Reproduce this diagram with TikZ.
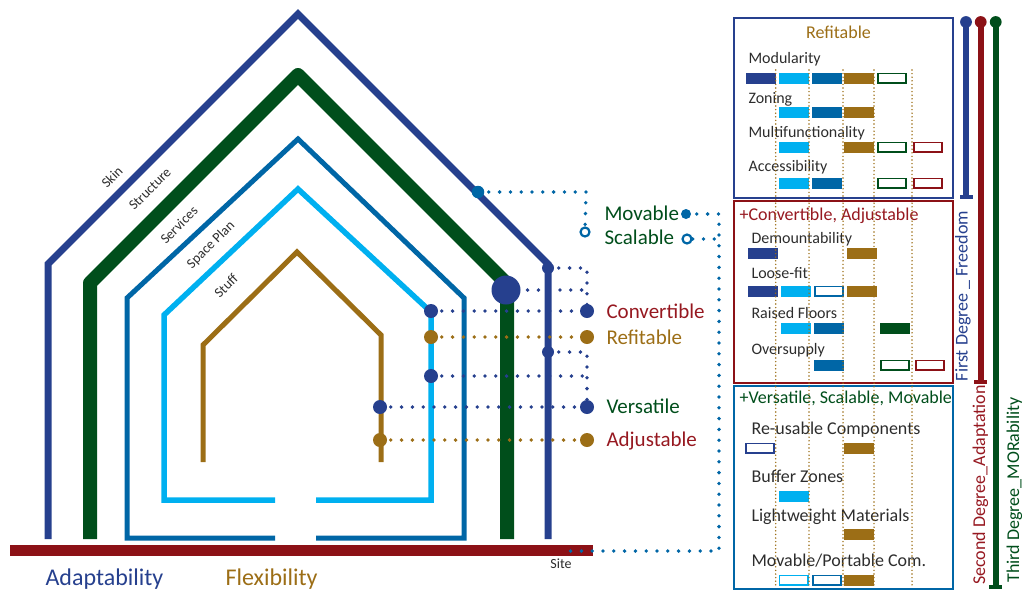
\documentclass[tikz,border=0pt]{standalone}
\usepackage{fontspec}
\setmainfont{Carlito}
\definecolor{dkblue}{RGB}{38,64,142}
\definecolor{svcblue}{RGB}{0,102,166}
\definecolor{ltblue}{RGB}{0,176,240}
\definecolor{dkgreen}{RGB}{0,78,27}
\definecolor{brownish}{RGB}{156,110,22}
\definecolor{dkred}{RGB}{140,17,22}
\definecolor{txtred}{RGB}{150,24,32}
\definecolor{txtgray}{RGB}{45,45,45}
\newcommand{\fs}[1]{\fontsize{#1}{#1}\selectfont}
% filled and outlined cells of the property table
\newcommand{\fcell}[3]{\fill[#1] (#2,#3-5.5) rectangle ++(30,11);}
\newcommand{\ocell}[3]{\draw[#1,line width=1.8pt,fill=white] (#2+0.9,#3-4.6) rectangle ++(28.2,9.2);}
\pgfdeclarelayer{back}
\pgfdeclarelayer{mid}
\pgfsetlayers{back,mid,main}
\begin{document}
\begin{tikzpicture}[x=1pt,y=-1pt,
  dotmark/.style={circle,inner sep=0pt,draw=none,minimum size=#1},
  ring/.style={circle,inner sep=0pt,fill=white,draw=svcblue,line width=2.2pt,minimum size=#1},
  dotline/.style={line width=3.8pt,dash pattern=on 0pt off 10.8pt,line cap=round},
  gridline/.style={draw=brownish,line width=1.6pt,dash pattern=on 0pt off 3.6pt,line cap=round},
  layerlabel/.style={rotate=45,text=txtgray,font=\fs{14}},
  biglabel/.style={anchor=mid west,font=\fs{21}},
  rowlabel/.style={anchor=mid west,text=txtgray,font=\fs{16}},
  rowlabelL/.style={anchor=mid west,text=txtgray,font=\fs{18}},
  header/.style={font=\fs{18}},
  vlabel/.style={rotate=90,font=\fs{18}}]
\useasboundingbox (0,0) rectangle (1022,590);

% ---------- house layers ----------
\begin{pgfonlayer}{back}
\draw[dkblue,line width=7pt,miter limit=10] (48,539) -- (48,264) -- (298,14) -- (548,264) -- (548,539);
\draw[dkgreen,line width=14pt,line join=round] (90,539) -- (90,283) -- (298,75) -- (507,284) -- (507,539);
\draw[svcblue,line width=5pt] (275,538) -- (127,538) -- (127,298) -- (298,139) -- (464,298) -- (464,538) -- (316,538);
\draw[ltblue,line width=5.5pt] (275,500) -- (164,500) -- (164,315) -- (298,189) -- (431,312) -- (431,500) -- (316,500);
\draw[brownish,line width=5pt] (203,462) -- (203,345) -- (297,252) -- (381,335) -- (381,462);
% site
\fill[dkred] (10,545) rectangle (593,556);
\end{pgfonlayer}
\node[text=txtgray,font=\fs{14}] (site) at (561,564) {Site};

% layer names
\node[layerlabel] (lskin) at (112,177) {Skin};
\node[layerlabel] (lstruct) at (150,189) {Structure};
\node[layerlabel] (lserv) at (179,225) {Services};
\node[layerlabel] (lspace) at (211,245) {Space Plan};
\node[layerlabel] (lstuff) at (226,286) {Stuff};

\node[anchor=mid west,text=dkblue,font=\fs{24}] (adapt) at (42,583) {Adaptability};
\node[anchor=mid west,text=brownish,font=\fs{24}] (flex) at (222,583) {Flexibility};

% ---------- dots on the layers ----------
\node[dotmark=12.5pt,fill=svcblue] (skA) at (478,192) {};
\node[dotmark=12pt,fill=dkblue] (skB) at (548,268) {};
\node[dotmark=29pt,fill=dkblue] (big) at (506,290) {};
\node[dotmark=14pt,fill=dkblue] (spA) at (431,311) {};
\node[dotmark=14pt,fill=brownish] (spR) at (431,337) {};
\node[dotmark=12pt,fill=dkblue] (skC) at (548,352) {};
\node[dotmark=14pt,fill=dkblue] (spB) at (431,376) {};
\node[dotmark=14pt,fill=dkblue] (stA) at (380,407) {};
\node[dotmark=14pt,fill=brownish] (stB) at (380,440) {};

% ---------- dots beside the property names ----------
\node[dotmark=14pt,fill=dkblue] (conv) at (587,311) {};
\node[dotmark=14pt,fill=brownish] (refit) at (587,337) {};
\node[dotmark=14pt,fill=dkblue] (vers) at (587,407) {};
\node[dotmark=14pt,fill=brownish] (adj) at (587,440) {};
\node[ring=9pt] (scL) at (585,232) {};
\node[dotmark=10pt,fill=svcblue] (mov) at (686,214) {};
\node[ring=9pt] (scR) at (687,239) {};

\coordinate (cA) at (586,192);
\coordinate (cB) at (587,268);
\coordinate (cBig) at (587,290);
\coordinate (cC) at (587,352);
\coordinate (cD) at (587,376);
\coordinate (cM) at (719,214);
\coordinate (cS) at (719,239);
\coordinate (cSite) at (719,551);
\coordinate (cSiteEnd) at (566,551);

% ---------- dotted connectors ----------
\begin{pgfonlayer}{mid}
\draw[dotline,svcblue] (skA.center) -- (cA) -- (scL);
\draw[dotline,svcblue] (mov.center) -- (cM) -- (cSite) -- (cSiteEnd);
\draw[dotline,svcblue] (scR) -- (cS);
\draw[dotline,dkblue] (skB.center) -- (cB) -- (conv.center);
\draw[dotline,dkblue] (big.center) -- (cBig);
\draw[dotline,dkblue] (spA.center) -- (conv.center);
\draw[dotline,brownish] (spR.center) -- (refit.center);
\draw[dotline,dkblue] (skC.center) -- (cC) -- (vers.center);
\draw[dotline,dkblue] (spB.center) -- (cD);
\draw[dotline,dkblue] (stA.center) -- (vers.center);
\draw[dotline,brownish] (stB.center) -- (adj.center);
\end{pgfonlayer}

% property names
\node[biglabel,text=dkgreen] (tmov) at (601,218) {Movable};
\node[biglabel,text=dkgreen] (tscal) at (601,242) {Scalable};
\node[biglabel,text=txtred] (tconv) at (603,316) {Convertible};
\node[biglabel,text=brownish] (trefit) at (603,342) {Refitable};
\node[biglabel,text=dkgreen] (tvers) at (603,411) {Versatile};
\node[biglabel,text=txtred] (tadj) at (603,444) {Adjustable};

% ---------- property table ----------
\draw[dkblue,line width=1.8pt] (734,18) rectangle (953,198);
\draw[dkred,line width=1.8pt] (734,201) rectangle (953,383);
\draw[svcblue,line width=1.8pt] (734,386) rectangle (953,589);

\node[header,text=brownish] (h1) at (838.5,32) {Refitable};
\node[header,text=txtred,anchor=mid west] (h2) at (736,218) {+Convertible, Adjustable};
\node[header,text=dkgreen,anchor=mid west] (h3) at (736,401) {+Versatile, Scalable, Movable};

\node[rowlabel] (r1) at (745,61) {Modularity};
\node[rowlabel] (r2) at (745,101) {Zoning};
\node[rowlabel] (r3) at (745,135) {Multifunctionality};
\node[rowlabel] (r4) at (745,169) {Accessibility};
\node[rowlabel] (r5) at (748,241) {Demountability};
\node[rowlabel] (r6) at (748,276) {Loose-fit};
\node[rowlabel] (r7) at (748,316) {Raised Floors};
\node[rowlabel] (r8) at (748,352) {Oversupply};
\node[rowlabelL] (r9) at (748,432) {Re-usable Components};
\node[rowlabelL] (r10) at (748,480) {Buffer Zones};
\node[rowlabelL] (r11) at (748,519) {Lightweight Materials};
\node[rowlabelL] (r12) at (748,564) {Movable/Portable Com.};

% first block
\fcell{dkblue}{746}{78} \fcell{ltblue}{778.5}{78} \fcell{svcblue}{812}{78} \fcell{brownish}{843.5}{78} \ocell{dkgreen}{877}{78}
\fcell{ltblue}{778.5}{112} \fcell{svcblue}{812}{112} \fcell{brownish}{843.5}{112}
\fcell{ltblue}{778.5}{147} \fcell{brownish}{843.5}{147} \ocell{dkgreen}{877}{147} \ocell{dkred}{913}{147}
\fcell{ltblue}{778.5}{183} \fcell{svcblue}{812}{183} \ocell{dkgreen}{877}{183} \ocell{dkred}{913}{183}
% second block
\fcell{dkblue}{748}{253} \fcell{brownish}{847}{253}
\fcell{dkblue}{748}{291} \fcell{ltblue}{781}{291} \ocell{svcblue}{814}{291} \fcell{brownish}{847}{291}
\fcell{ltblue}{781}{328} \fcell{svcblue}{814}{328} \fcell{dkgreen}{880}{328}
\fcell{svcblue}{814}{365} \ocell{dkgreen}{880}{365} \ocell{dkred}{915}{365}
% third block
\ocell{dkblue}{745}{448} \fcell{brownish}{843.5}{448}
\fcell{ltblue}{778.5}{496}
\fcell{brownish}{843.5}{534}
\ocell{ltblue}{778.5}{580} \ocell{svcblue}{812}{580} \fcell{brownish}{843.5}{580}

% column guides
\foreach \gx in {775.7,809,843,874,912}
  \draw[gridline] (\gx,70) -- (\gx,588);

% ---------- degree bars ----------
\foreach \bx/\by/\bc in {966/198/dkblue,980.7/383/dkred,995.7/588/dkgreen} {
  \fill[\bc] (\bx,22) circle (5.9);
  \draw[\bc,line width=5.6pt] (\bx,22) -- (\bx,\by);
  \fill[\bc] (\bx-6.5,\by-3.5) rectangle (\bx+6.5,\by+0.5);
}
\node[vlabel,text=dkblue] (v1) at (963,296) {First Degree \_ Freedom};
\node[vlabel,text=txtred] (v2) at (980.5,485) {Second Degree\_Adaptation};
\node[vlabel,text=dkgreen] (v3) at (1014.5,490) {Third Degree\_MORability};
\end{tikzpicture}
\end{document}
